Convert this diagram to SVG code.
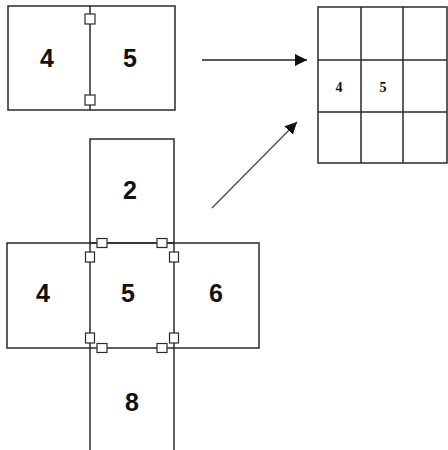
<svg xmlns="http://www.w3.org/2000/svg" width="448" height="450" viewBox="0 0 448 450">
<defs>
<style>
.b{fill:none;stroke:#2a2a2a;stroke-width:1.5}
.s{fill:#fff;stroke:#2a2a2a;stroke-width:1.2}
.t{font-family:"Liberation Sans",Arial,sans-serif;font-weight:bold;font-size:25px;fill:#111;text-anchor:middle}
.g{font-family:"Liberation Serif","Times New Roman",serif;font-weight:bold;font-size:14px;fill:#111;text-anchor:middle}
</style>
<marker id="ah" viewBox="0 0 12 12" refX="12" refY="6" markerWidth="12" markerHeight="12" markerUnits="userSpaceOnUse" orient="auto">
<path d="M0,0 L12,6 L0,12 Z" fill="#111"/>
</marker>
</defs>
<rect width="448" height="450" fill="#fff"/>
<g id="pair">
<rect class="b" x="8" y="6" width="167" height="104"/>
<line class="b" x1="90" y1="6" x2="90" y2="110"/>
<rect class="s" x="85" y="14" width="10" height="10"/>
<rect class="s" x="85" y="95" width="10" height="10"/>
<text class="t" x="47" y="67">4</text>
<text class="t" x="130" y="67">5</text>
</g>
<g id="grid">
<rect class="b" x="318" y="7" width="129" height="156"/>
<line class="b" x1="361" y1="7" x2="361" y2="163"/>
<line class="b" x1="403" y1="7" x2="403" y2="163"/>
<line class="b" x1="318" y1="60" x2="447" y2="60"/>
<line class="b" x1="318" y1="112" x2="447" y2="112"/>
<text class="g" x="339" y="92">4</text>
<text class="g" x="383" y="92">5</text>
</g>
<g id="cross">
<rect class="b" x="90" y="139" width="84" height="104"/>
<rect class="b" x="7" y="243" width="252" height="105"/>
<line class="b" x1="90" y1="243" x2="90" y2="450"/>
<line class="b" x1="174" y1="243" x2="174" y2="450"/>
<rect class="s" x="97" y="238.5" width="10" height="9"/>
<rect class="s" x="157" y="238.5" width="10" height="9"/>
<rect class="s" x="85.5" y="252" width="9" height="10"/>
<rect class="s" x="169.5" y="252" width="9" height="10"/>
<rect class="s" x="85.5" y="333" width="9" height="10"/>
<rect class="s" x="169.5" y="333" width="9" height="10"/>
<rect class="s" x="97" y="343.5" width="10" height="9"/>
<rect class="s" x="157" y="343.5" width="10" height="9"/>
<text class="t" x="130" y="199">2</text>
<text class="t" x="43" y="302">4</text>
<text class="t" x="128" y="302">5</text>
<text class="t" x="216" y="302">6</text>
<text class="t" x="132" y="411">8</text>
</g>
<g id="connectors">
<line x1="202" y1="60" x2="307" y2="60" stroke="#222" stroke-width="1.5" marker-end="url(#ah)"/>
<line x1="212" y1="208" x2="297" y2="122" stroke="#555" stroke-width="1.5" marker-end="url(#ah)"/>
</g>
</svg>
